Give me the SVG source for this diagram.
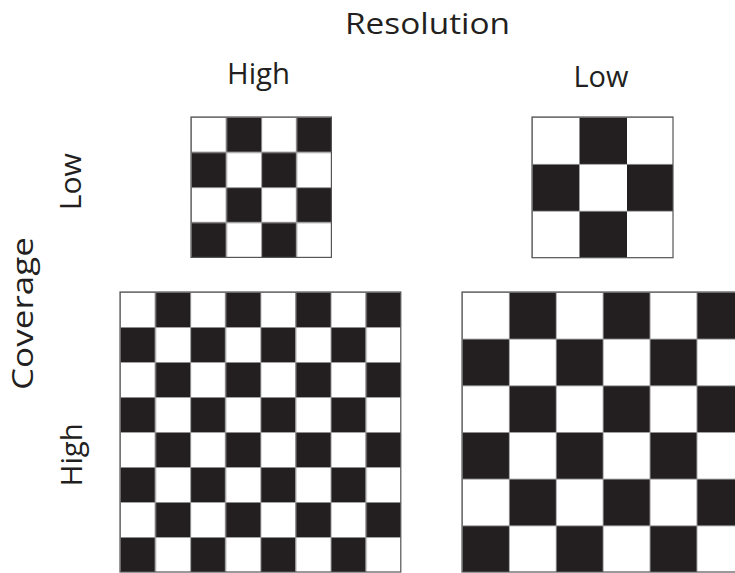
<svg xmlns="http://www.w3.org/2000/svg" width="735" height="573" viewBox="0 0 735 573">
  <style>
    .lbl { font-family: "Open Sans", "Noto Sans", "Liberation Sans", sans-serif; font-size: 30px; fill: #231f20; text-anchor: middle; }
    .border { fill: none; stroke: #555; stroke-width: 1.2; }
  </style>
  <defs>
    <pattern id="chkA" patternUnits="userSpaceOnUse" x="191" y="117" width="70.2" height="70.2">
      <rect x="0" y="0" width="70.2" height="70.2" fill="#fff"/>
      <rect x="35.1" y="0" width="35.1" height="35.1" fill="#231f20"/>
      <rect x="0" y="35.1" width="35.1" height="35.1" fill="#231f20"/>
      <rect x="0" y="0" width="70.2" height="0.9" fill="#999"/>
      <rect x="0" y="35.1" width="70.2" height="0.9" fill="#999"/>
      <rect x="0" y="0" width="0.9" height="70.2" fill="#999"/>
      <rect x="35.1" y="0" width="0.9" height="70.2" fill="#999"/>
    </pattern>
    <pattern id="chkB" patternUnits="userSpaceOnUse" x="532" y="117" width="94" height="93.8">
      <rect x="0" y="0" width="94" height="93.8" fill="#fff"/>
      <rect x="47" y="0" width="47" height="46.9" fill="#231f20"/>
      <rect x="0" y="46.9" width="47" height="46.9" fill="#231f20"/>
      <rect x="0" y="0" width="94" height="0.9" fill="#999"/>
      <rect x="0" y="46.9" width="94" height="0.9" fill="#999"/>
      <rect x="0" y="0" width="0.9" height="93.8" fill="#999"/>
      <rect x="47" y="0" width="0.9" height="93.8" fill="#999"/>
    </pattern>
    <pattern id="chkC" patternUnits="userSpaceOnUse" x="120" y="292" width="70.2" height="70">
      <rect x="0" y="0" width="70.2" height="70" fill="#fff"/>
      <rect x="35.1" y="0" width="35.1" height="35" fill="#231f20"/>
      <rect x="0" y="35" width="35.1" height="35" fill="#231f20"/>
      <rect x="0" y="0" width="70.2" height="0.9" fill="#999"/>
      <rect x="0" y="35" width="70.2" height="0.9" fill="#999"/>
      <rect x="0" y="0" width="0.9" height="70" fill="#999"/>
      <rect x="35.1" y="0" width="0.9" height="70" fill="#999"/>
    </pattern>
    <pattern id="chkD" patternUnits="userSpaceOnUse" x="462" y="292" width="93.8" height="93.34">
      <rect x="0" y="0" width="93.8" height="93.34" fill="#fff"/>
      <rect x="46.9" y="0" width="46.9" height="46.67" fill="#231f20"/>
      <rect x="0" y="46.67" width="46.9" height="46.67" fill="#231f20"/>
      <rect x="0" y="0" width="93.8" height="0.9" fill="#999"/>
      <rect x="0" y="46.67" width="93.8" height="0.9" fill="#999"/>
      <rect x="0" y="0" width="0.9" height="93.34" fill="#999"/>
      <rect x="46.9" y="0" width="0.9" height="93.34" fill="#999"/>
    </pattern>
  </defs>
  <rect x="0" y="0" width="735" height="573" fill="#fff"/>

  <g id="labels">
    <text class="lbl" x="427.5" y="33.5" textLength="165" lengthAdjust="spacingAndGlyphs">Resolution</text>
    <text class="lbl" x="258.5" y="83.5" textLength="63" lengthAdjust="spacingAndGlyphs">High</text>
    <text class="lbl" x="601" y="87" textLength="55" lengthAdjust="spacingAndGlyphs">Low</text>
    <text class="lbl" transform="translate(81,181.7) rotate(-90)" x="0" y="0" textLength="57" lengthAdjust="spacingAndGlyphs">Low</text>
    <text class="lbl" transform="translate(33,313.5) rotate(-90)" x="0" y="0" textLength="153" lengthAdjust="spacingAndGlyphs">Coverage</text>
    <text class="lbl" transform="translate(81.7,454.7) rotate(-90)" x="0" y="0" textLength="63" lengthAdjust="spacingAndGlyphs">High</text>
  </g>

  <g id="grid-low-coverage-high-resolution">
    <rect x="191" y="117" width="140.4" height="140.4" fill="url(#chkA)"/>
    <rect class="border" x="191" y="117" width="140.4" height="140.4"/>
  </g>
  <g id="grid-low-coverage-low-resolution">
    <rect x="532" y="117" width="141" height="140.7" fill="url(#chkB)"/>
    <rect class="border" x="532" y="117" width="141" height="140.7"/>
  </g>
  <g id="grid-high-coverage-high-resolution">
    <rect x="120" y="292" width="280.8" height="280" fill="url(#chkC)"/>
    <rect class="border" x="120" y="292" width="280.8" height="280"/>
  </g>
  <g id="grid-high-coverage-low-resolution">
    <rect x="462" y="292" width="290" height="280" fill="url(#chkD)"/>
    <rect class="border" x="462" y="292" width="290" height="280"/>
  </g>
</svg>
